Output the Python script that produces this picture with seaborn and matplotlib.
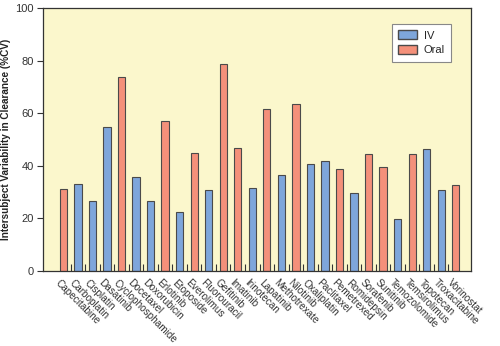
import matplotlib
matplotlib.use("Agg")
import matplotlib.pyplot as plt
from matplotlib.patches import Patch
import seaborn as sns
import pandas as pd

drugs = ["Capecitabine", "Carboplatin", "Cisplatin", "Dasatinib", "Cyclophosphamide",
         "Docetaxel", "Doxorubicin", "Erlotinib", "Etoposide", "Everolimus",
         "Fluorouracil", "Gefitinib", "Imatinib", "Irinotecan", "Lapatinib",
         "Methotrexate", "Nilotinib", "Oxaliplatin", "Paclitaxel", "Pemetrexed",
         "Romidepsin", "Sorafenib", "Sunitinib", "Temozolomide", "Temsirolimus",
         "Topotecan", "Troxacitabine", "Vorinostat"]
route = ["Oral", "IV", "IV", "IV", "Oral",
         "IV", "IV", "Oral", "IV", "Oral",
         "IV", "Oral", "Oral", "IV", "Oral",
         "IV", "Oral", "IV", "IV", "Oral",
         "IV", "Oral", "Oral", "IV", "Oral",
         "IV", "IV", "Oral"]
cv = [31.2, 33.0, 26.5, 54.6, 73.6,
      35.9, 26.6, 57.0, 22.4, 44.7,
      30.7, 78.6, 46.8, 31.6, 61.5,
      36.4, 63.6, 40.7, 41.7, 38.7,
      29.7, 44.5, 39.7, 19.6, 44.5,
      46.5, 30.9, 32.6]

df = pd.DataFrame({"drug": drugs, "route": route, "cv": cv})

sns.set_style("ticks")
plt.rcParams["font.family"] = ["Liberation Sans", "DejaVu Sans"]

palette = {"IV": "#7EA6DB", "Oral": "#F4907A"}
edge = "#4A4A4A"

fig = plt.figure(figsize=(5.0, 3.46), dpi=100)
ax = fig.add_axes([0.0866, 0.2168, 0.8554, 0.7602])
ax.set_facecolor("#FBF7CC")

sns.barplot(data=df, x="drug", y="cv", hue="route", order=drugs,
            palette=palette, saturation=1, dodge=False, width=0.5,
            edgecolor=edge, linewidth=0.8, legend=False, ax=ax)

ax.set_xlim(-1.38, len(drugs) - 1 + 1.05)
ax.set_ylim(0, 100)
ax.set_yticks([0, 20, 40, 60, 80, 100])
ax.tick_params(axis="y", direction="out", length=4, width=0.8,
               color="#333333", labelsize=8, labelcolor="#333333", pad=3)

# category separators drawn as short inward ticks on the bottom axis
ax.set_xticks([i + 0.5 for i in range(len(drugs) - 1)])
ax.set_xticklabels([])
ax.tick_params(axis="x", direction="in", length=5, width=0.8, color="#333333")
for i, name in enumerate(drugs):
    ax.text(i - 0.2, -2.5, name, rotation=-45, rotation_mode="anchor",
            ha="left", va="top", fontsize=7.2, color="#333333",
            transform=ax.transData, clip_on=False)

ax.set_xlabel("")
ax.set_ylabel("Intersubject Variability in Clearance (%CV)", fontsize=7.2,
              fontweight="bold", color="#222222")
ax.yaxis.set_label_coords(-0.0755, 0.5)

for side in ["top", "right", "bottom", "left"]:
    ax.spines[side].set_visible(True)
    ax.spines[side].set_color("#333333")
    ax.spines[side].set_linewidth(0.9)

handles = [Patch(facecolor=palette["IV"], edgecolor=edge, label="IV"),
           Patch(facecolor=palette["Oral"], edgecolor=edge, label="Oral")]
leg = ax.legend(handles=handles, loc="upper right", bbox_to_anchor=(0.953, 0.939),
                borderaxespad=0, fontsize=8, frameon=True, fancybox=False,
                edgecolor="#888888", facecolor="white", framealpha=1,
                handlelength=1.7, handleheight=0.9, borderpad=0.55,
                labelspacing=0.4, handletextpad=0.6)
leg.get_frame().set_linewidth(0.8)

fig.savefig("out.png", dpi=100, facecolor="white")
